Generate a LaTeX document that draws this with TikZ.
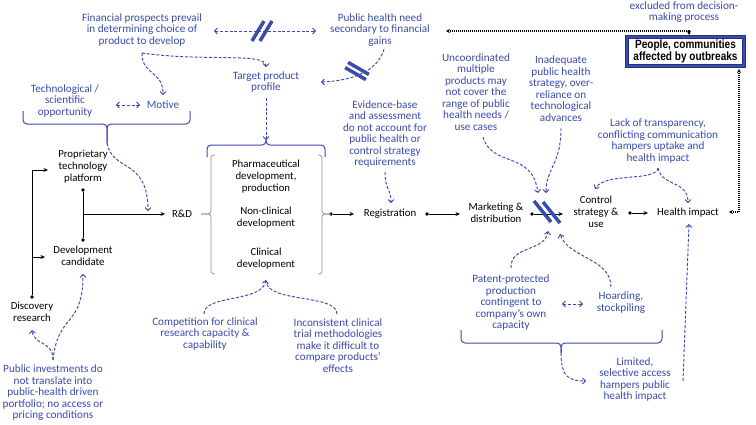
\documentclass[tikz,border=0pt]{standalone}
\usepackage{fontspec}
\setmainfont{Carlito}
\newfontfamily\boxfont{Liberation Sans}[FakeStretch=0.84]
\usetikzlibrary{arrows.meta}
\definecolor{anno}{RGB}{58,76,172}
\definecolor{annodark}{RGB}{38,48,120}
\definecolor{brk}{RGB}{145,145,145}
\tikzset{
 txt/.style={font=\fontsize{10.8}{12}\selectfont, align=center, inner sep=0pt, text=black},
 ann/.style={font=\fontsize{11.2}{11.5}\selectfont, align=center, inner sep=0pt, text=anno},
 flow/.style={line width=0.85pt, -{Stealth[length=4.5pt,width=4pt]}},
 plain/.style={line width=0.85pt},
 dn/.style={draw=anno, line width=0.95pt, dash pattern=on 3pt off 1.8pt},
 dar/.style={dn, -{Straight Barb[length=2.8pt,width=6pt]}},
 dboth/.style={dn, {Straight Barb[length=2.8pt,width=6pt]}-{Straight Barb[length=2.8pt,width=6pt]}},
 dotl/.style={line width=1.1pt, dash pattern=on 0.9pt off 1.1pt, {Stealth[length=4pt,width=4pt]}-{Stealth[length=4pt,width=4pt]}},
 bluebrace/.style={draw=anno, line width=1pt, rounded corners=4pt},
 graybrace/.style={draw=brk, line width=0.7pt, rounded corners=3pt},
 slashbar/.style={draw=anno, line width=3.5pt},
 dot/.style={circle, fill=black, inner sep=0pt, minimum size=3.8pt},
 pbox/.style={draw=annodark, double=anno, double distance=2pt, line width=0.9pt, minimum width=117pt, minimum height=29.5pt, inner sep=0pt, align=center, font=\boxfont\bfseries\fontsize{12}{12}\selectfont},
}
\begin{document}
\begin{tikzpicture}[x=1pt,y=-1pt]
\useasboundingbox (0,0) rectangle (756,424);
\fill[white] (0,0) rectangle (756,424);

% ---------- annotation texts ----------
\node[ann] (fin) at (142,30) {Financial prospects prevail\\in determining choice of\\product to develop};
\node[ann] (pub) at (380,30) {Public health need\\secondary to financial\\gains};
\node[ann] (exc) at (684,12) {excluded from decision-\\making process};
\node[ann] (tech) at (65,101) {Technological /\\scientific\\opportunity};
\node[ann] (mot) at (163,105) {Motive};
\node[ann] (tpp) at (266,82) {Target product\\profile};
\node[ann] (evi) at (385,134) {Evidence-base\\and assessment\\do not account for\\public health or\\control strategy\\requirements};
\node[ann] (unc) at (476,92) {Uncoordinated\\multiple\\products may\\not cover the\\range of public\\health needs /\\use cases};
\node[ann] (inad) at (561,88.5) {Inadequate\\public health\\strategy, over-\\reliance on\\technological\\advances};
\node[ann] (lack) at (658,141) {Lack of transparency,\\conflicting communication\\hampers uptake and\\health impact};
\node[ann] (pinv) at (53,393) {Public investments do\\not translate into\\public-health driven\\portfolio; no access or\\pricing conditions};
\node[ann] (comp) at (205,334) {Competition for clinical\\research capacity \&\\capability};
\node[ann] (inc) at (338,345.5) {Inconsistent clinical\\trial methodologies\\make it difficult to\\compare products’\\effects};
\node[ann] (pat) at (511,303) {Patent-protected\\production\\contingent to\\company’s own\\capacity};
\node[ann] (hoard) at (621,302.5) {Hoarding,\\stockpiling};
\node[ann] (lim) at (635,379.5) {Limited,\\selective access\\hampers public\\health impact};

% ---------- main texts ----------
\node[txt] (ptp) at (83,167) {Proprietary\\technology\\platform};
\node[txt] (dc) at (83,256) {Development\\candidate};
\node[txt] (dr) at (32,312) {Discovery\\research};
\node[txt] (rd) at (182,214) {R\&D};
\node[txt] (pharm) at (266,177) {Pharmaceutical\\development,\\production};
\node[txt] (ncl) at (266,218) {Non-clinical\\development};
\node[txt] (cl) at (266,259) {Clinical\\development};
\node[txt] (reg) at (390,214) {Registration};
\node[txt] (mkt) at (496,213) {Marketing \&\\distribution};
\node[txt] (csu) at (596,212) {Control\\strategy \&\\use};
\node[txt] (hi) at (688,213) {Health impact};
\node[pbox] (ppl) at (685.5,51.5) {People, communities\\affected by outbreaks};

% ---------- dots and coordinates ----------
\node[dot] (d1) at (83,190) {};
\node[dot] (d2) at (83,240) {};
\node[dot] (d0) at (32,297) {};
\node[dot] (d3) at (331,214) {};
\node[dot] (d4) at (427,214) {};
\node[dot] (d5) at (532,214) {};
\node[dot] (d6) at (630,213) {};
\coordinate (j1) at (83,214);
\coordinate (rdin) at (165,214);
\coordinate (ptpin) at (48,170);
\coordinate (j0) at (32,257);
\coordinate (dcin) at (45,257);
\coordinate (regin) at (354,214);
\coordinate (mktin) at (460,214);
\coordinate (csuin) at (563,214);
\coordinate (hiin) at (648,213);

% ---------- black flow ----------
\draw[plain] (d1) -- (d2);
\draw[flow] (j1) -- (rdin);
\draw[flow] (d0) |- (ptpin);
\draw[flow] (j0) -- (dcin);
\draw[flow] (d3) -- (regin);
\draw[flow] (d4) -- (mktin);
\draw[flow] (d5) -- (csuin);
\draw[flow] (d6) -- (hiin);

% ---------- gray braces around development block ----------
\draw[graybrace] (215,155) -- (211,155) -- (211,214) -- (201,214);
\draw[graybrace] (215,274) -- (211,274) -- (211,214) -- (201,214);
\draw[graybrace] (318,155) -- (322,155) -- (322,214) -- (d3.center);
\draw[graybrace] (318,274) -- (322,274) -- (322,214) -- (d3.center);

% ---------- blue solid braces ----------
\draw[bluebrace] (207,157) -- (207,145) -- (266,145) -- (266,140);
\draw[bluebrace] (325,157) -- (325,145) -- (266,145) -- (266,140);
\draw[bluebrace] (23,111) -- (23,124) -- (107,124) -- (107,143);
\draw[bluebrace] (190,111) -- (190,124) -- (107,124) -- (107,143);
\draw[bluebrace] (461,330) -- (461,343) -- (561,343) -- (561,353);
\draw[bluebrace] (662,330) -- (662,343) -- (561,343) -- (561,353);

% ---------- dashed annotation arrows ----------
\coordinate (finb) at (142,53);
\draw[dar] (finb) .. controls (142,76) and (163,70) .. (163,95);
\draw[dar] (finb) .. controls (205,62) and (266,52) .. (266,67);
\draw[dboth] (214,31) -- (316,31);
\draw[dar] (384,49) .. controls (378,72) and (350,81) .. (321,82);
\draw[dar] (266,98) -- (266,140);
\draw[dboth] (116,105) -- (140,105);
\draw[dar] (107,143) .. controls (112,172) and (148,158) .. (148,211);
\draw[dar] (385,172) .. controls (385,190) and (391,188) .. (391,203);
\draw[dar] (483,137) .. controls (492,168) and (532,150) .. (538,193);
\draw[dar] (561,128) .. controls (561,165) and (546,168) .. (546,193);
\draw[dar] (511,268) .. controls (510,245) and (545,252) .. (548,231);
\draw[dar] (611,287) .. controls (611,258) and (568,258) .. (560,234);
\draw[dboth] (562,304) -- (583,304);
\draw[dar] (561,353) .. controls (561,378) and (570,381) .. (586,381);
\draw[dar] (683,381) -- (689,224);
\draw[dar] (658,168) .. controls (656,182) and (605,172) .. (595,189);
\draw[dar] (658,168) .. controls (662,187) and (688,180) .. (688,203);
\draw[dar] (53,360) .. controls (53,340) and (34,346) .. (32,330);
\draw[dar] (53,360) .. controls (58,312) and (83,328) .. (83,274);
\draw[dar] (204,314) .. controls (204,294) and (262,303) .. (266,280);
\draw[dn] (337,314) .. controls (337,294) and (270,303) .. (266,282);

% ---------- double slash marks ----------
\draw[slashbar] (252,41) -- (264,21);
\draw[slashbar] (260,41) -- (272,21);
\draw[slashbar] (348.1,62.4) -- (368.9,74.4);
\draw[slashbar] (345.1,67.6) -- (365.9,79.6);
\draw[slashbar] (534,201) -- (551,222);
\draw[slashbar] (543,202) -- (560,223);

% ---------- dotted links to affected people ----------
\draw[dotl] (446,31) -- (689,31) -- (689,35);
\draw[dotl] (729,212) -- (739,212) -- (739,69);
\end{tikzpicture}
\end{document}
